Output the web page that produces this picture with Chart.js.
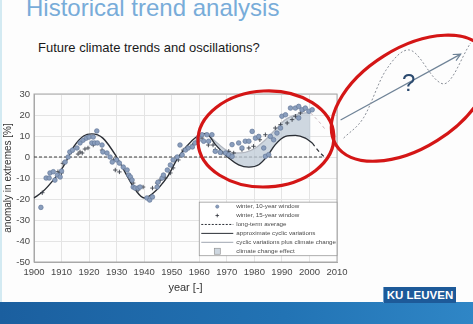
<!DOCTYPE html>
<html>
<head>
<meta charset="utf-8">
<script src="https://cdn.jsdelivr.net/npm/chart.js@4.4.1/dist/chart.umd.min.js"></script>
<style>
  body { margin: 0; width: 473px; height: 324px; overflow: hidden; position: relative;
         background: #fdfdfd; font-family: "Liberation Sans", Arial, sans-serif; }
  #title { position: absolute; left: 26px; top: -4px; font-size: 24px; line-height: 24px;
           color: #78acd9; white-space: nowrap; }
  #subtitle { position: absolute; left: 38px; top: 41px; font-size: 13px; line-height: 13px;
              color: #1a1a1a; white-space: nowrap; }
  #edge { position: absolute; left: 0; top: 0; width: 2px; height: 324px; background: #d3eaf2; }
  #band { position: absolute; left: 0; top: 302px; width: 473px; height: 22px;
          background: linear-gradient(90deg, #1b5f9f, #2273b4 60%, #2f86c6); }
  #logo { position: absolute; left: 383px; top: 287px; width: 72px; height: 16px;
          background: #1d5a99; color: #fff; font-weight: bold; font-size: 11.5px;
          line-height: 16px; text-align: center; border-left: 1px solid #6f9fcc; }
  canvas { position: absolute; left: 0; top: 0; }
</style>
</head>
<body>
<div id="edge"></div>
<div id="title">Historical trend analysis</div>
<div id="subtitle">Future climate trends and oscillations?</div>
<div id="band"></div>
<div id="logo">KU LEUVEN</div>
<canvas id="chart" width="473" height="324"></canvas>

<script>
// winter, 10-year window (circles)
const years10 = [1902.5, 1904.4, 1905.5, 1905.8, 1907, 1907.6, 1908.5, 1909.5, 1910, 1911.3,
  1912.4, 1913, 1914, 1915.6, 1916.7, 1917.8, 1919, 1920, 1921, 1921.5,
  1922, 1922.8, 1923, 1924.7, 1925, 1926.5, 1927.6, 1928.4, 1930, 1931,
  1932.4, 1933.8, 1934.4, 1935, 1935.6, 1936, 1936.7, 1937.8, 1938.5, 1941,
  1942, 1943, 1944.7, 1945, 1946.5, 1947, 1948.4, 1949.5, 1950.5, 1952,
  1953, 1953.8, 1955, 1956, 1957.5, 1958.5, 1959.6, 1959.8, 1961, 1961.6,
  1962.8, 1963.4, 1964.6, 1965.8, 1967.6, 1969.5, 1970.7, 1971.9, 1971.9, 1974.3,
  1975.5, 1976.7, 1978, 1979.2, 1980.4, 1981.6, 1983.4, 1984, 1985.2, 1985.8,
  1987, 1988.2, 1989.5, 1990, 1991.3, 1993.1, 1994.9, 1996.1, 1996.1, 1997.3,
  1998.5, 1999.8, 2001];
const vals10 = [-24, -10, -10, -7.6, -7, -11, -8.6, -9.5, -6.7, -2.4,
  0, 2.4, 3.3, 4.3, 6.7, 8, 9, 9.5, 6.7, 9.5,
  6.7, 12.4, 6.7, 5.7, 2.4, 1.9, 0, -2.4, -1.4, -2.9,
  -4.8, -6.2, -8.6, -9.5, -11, -14.3, -14.8, -14.8, -14.3, -19.5,
  -20.5, -19, -14.3, -12, -10, -8.6, -6.2, -3.8, -1.4, 0,
  5.7, 1, 3.3, 4.3, 4.8, 6.7, 8, 9.5, 10.6, 7.5,
  10.6, 7.5, 10.6, 2.7, 2.2, 1.9, 1.1, 0.3, 5.9, 6.7,
  4.3, 7.5, 7.5, 12.2, 9, 9.8, 4.3, 0.3, 1.1, 9.8,
  8.2, 11.4, 13.8, 19.4, 20.1, 23.3, 23.3, 24.1, 18.6, 22.5,
  23.3, 21.8, 22.5];

// winter, 15-year window (crosses)
const years15 = [1903, 1908.7, 1910, 1910.5, 1913.6, 1916, 1916.7, 1917.5, 1918.5, 1919.6,
  1921.5, 1924.7, 1928.8, 1929.5, 1931, 1936, 1937.8, 1939.6, 1943, 1944.7,
  1945.8, 1947.6, 1949.5, 1950.5, 1952.4, 1954.2, 1957.5, 1959.3, 1961, 1963.3,
  1965, 1965.8, 1968.2, 1970.7, 1972.5, 1975.5, 1978, 1979.7, 1982, 1984,
  1987.6, 1989.5, 1991.9, 1993.7, 1994.9, 1996.7, 1998];
const vals15 = [-17, -7, -7.6, -3, 2.4, 1.4, 2.4, 1.9, 3.8, 4.3,
  5.7, 3.3, -1.4, -6.2, -7.1, -12.4, -15.7, -14.3, -14.8, -12.4,
  -11, -10, -7.6, -5.2, -1.4, 3.3, 5.7, 7.1, 9, 5.7,
  5.7, 3.5, 1.9, 2.7, 1.9, 3.5, 4.3, 5.1, 8.2, 10.6,
  13.8, 15.4, 16.2, 17.8, 19.4, 21, 22.5];

// long-term average
const avgYears = [1900, 2005];
const avgVals = [0, 0];

// approximate cyclic variations
const cycleYears = [1900, 1903, 1907, 1910.5, 1912.5, 1914.5, 1918, 1921, 1925, 1930,
  1934, 1937, 1940, 1943, 1948.4, 1952.4, 1957.5, 1961, 1962.5, 1965.8,
  1970.7, 1974.3, 1978, 1981.6, 1984.6, 1987.6, 1991.3, 1994.9, 1998.5, 2001];
const cycleVals = [-19.5, -16.7, -11, -4.8, 0, 5, 10, 11, 9, 0,
  -9.5, -16, -19.5, -17.5, -9.5, 0, 8, 11, 11.2, 6,
  -0.5, -3.7, -4.8, -3.7, 0.3, 5.9, 9.8, 10.3, 9, 6.7];
const cycleTailYears = [2001, 2003.4, 2005.2];
const cycleTailVals = [6.7, 2.7, 0.3];

// cyclic variations plus climate change
const trendYears = [1962.5, 1965.8, 1969.5, 1973, 1976.7, 1980.4, 1984, 1987.6, 1991.3, 1994.9, 1998.5, 2000.4];
const trendVals = [11.2, 7.5, 3.5, 1.9, 2.2, 4.3, 8.2, 13, 17.8, 20.1, 21, 21];
const trendTailYears = [2000.4, 2002.2, 2004, 2005.8];
const trendTailVals = [21, 18.6, 16, 13];

// future sketch
const waveYears = [2012.4, 2019.6, 2027.6, 2036, 2046.5, 2048.7, 2058.5];
const waveVals = [9, 18.6, 41, 51, 36.2, 34.8, 54.3];
const arrowYears = [2011.3, 2054.9];
const arrowVals = [17.6, 49];

const legendLabels = ['winter, 10-year window', 'winter, 15-year window', 'long-term average',
  'approximate cyclic variations', 'cyclic variations plus climate change', 'climate change effect'];

const pts = (xs, ys) => xs.map((x, i) => ({ x: x, y: ys[i] }));

const dark = '#2b2f36';
const grayLine = '#b2b7c0';
const shade = 'rgba(190,201,214,0.75)';
const dotFill = '#8a9ebd';
const dotEdge = '#647899';
const red = '#d41616';

const overlay = {
  id: 'overlay',
  beforeDatasetsDraw(chart) {
    const { ctx, chartArea: a } = chart;
    ctx.save();
    ctx.strokeStyle = '#a8a8a8';
    ctx.lineWidth = 1;
    ctx.strokeRect(a.left, a.top, a.right - a.left, a.bottom - a.top);
    ctx.restore();
  },
  afterDraw(chart) {
    const { ctx, chartArea: a, scales: { x, y } } = chart;
    ctx.save();

    // legend box
    const lx = x.getPixelForValue(1960), ly = y.getPixelForValue(-21.5);
    const by = y.getPixelForValue(-47);
    ctx.fillStyle = '#fff';
    ctx.fillRect(lx, ly, a.right - lx, by - ly);
    ctx.strokeStyle = '#9a9a9a';
    ctx.lineWidth = 0.8;
    ctx.strokeRect(lx, ly, a.right - lx, by - ly);
    const rowH = (by - ly) / legendLabels.length;
    ctx.font = '6.2px "Liberation Sans", Arial, sans-serif';
    ctx.textBaseline = 'middle';
    legendLabels.forEach((t, i) => {
      const cy = ly + rowH * (i + 0.5);
      const mx = lx + 18;
      ctx.setLineDash([]);
      if (i === 0) {
        ctx.beginPath(); ctx.arc(mx, cy, 1.6, 0, Math.PI * 2);
        ctx.fillStyle = dotFill; ctx.fill(); ctx.strokeStyle = dotEdge; ctx.lineWidth = 0.6; ctx.stroke();
      } else if (i === 1) {
        ctx.strokeStyle = dark; ctx.lineWidth = 0.8; ctx.beginPath();
        ctx.moveTo(mx - 1.8, cy); ctx.lineTo(mx + 1.8, cy); ctx.moveTo(mx, cy - 1.8); ctx.lineTo(mx, cy + 1.8); ctx.stroke();
      } else if (i === 5) {
        ctx.fillStyle = shade; ctx.fillRect(mx - 3, cy - 3, 6, 6);
        ctx.strokeStyle = '#888'; ctx.lineWidth = 0.6; ctx.strokeRect(mx - 3, cy - 3, 6, 6);
      } else {
        ctx.strokeStyle = i === 4 ? grayLine : dark;
        ctx.lineWidth = i === 4 ? 1.2 : 1;
        if (i === 2) ctx.setLineDash([2, 1.5]);
        ctx.beginPath(); ctx.moveTo(lx + 2, cy); ctx.lineTo(lx + 34, cy); ctx.stroke();
        ctx.setLineDash([]);
      }
      ctx.fillStyle = '#4a4a4a';
      ctx.fillText(t, lx + 37, cy);
    });

    // arrow head of the future sketch
    const ax0 = x.getPixelForValue(arrowYears[0]), ay0 = y.getPixelForValue(arrowVals[0]);
    const ax1 = x.getPixelForValue(arrowYears[1]), ay1 = y.getPixelForValue(arrowVals[1]);
    const ang = Math.atan2(ay1 - ay0, ax1 - ax0);
    ctx.strokeStyle = '#6f8397';
    ctx.lineWidth = 1.2;
    ctx.beginPath();
    ctx.moveTo(ax1 - 8 * Math.cos(ang - 0.45), ay1 - 8 * Math.sin(ang - 0.45));
    ctx.lineTo(ax1, ay1);
    ctx.lineTo(ax1 - 8 * Math.cos(ang + 0.45), ay1 - 8 * Math.sin(ang + 0.45));
    ctx.stroke();

    // question mark
    ctx.fillStyle = '#2b4a6f';
    ctx.font = '24px "Liberation Sans", Arial, sans-serif';
    ctx.textAlign = 'center';
    ctx.textBaseline = 'middle';
    ctx.fillText('?', x.getPixelForValue(2036), y.getPixelForValue(34.8));

    // red ellipses
    ctx.strokeStyle = red;
    ctx.lineWidth = 3.2;
    ctx.beginPath();
    ctx.ellipse(x.getPixelForValue(1984.2), y.getPixelForValue(8.6), 68, 48, -0.05, 0, Math.PI * 2);
    ctx.stroke();
    ctx.beginPath();
    ctx.ellipse(x.getPixelForValue(2036.7), y.getPixelForValue(28), 88, 50, -32 * Math.PI / 180, 0, Math.PI * 2);
    ctx.stroke();
    ctx.restore();
  }
};

const tickFont = { family: '"Liberation Sans", Arial, sans-serif', size: 9.5 };

new Chart(document.getElementById('chart'), {
  type: 'line',
  data: {
    datasets: [
      { label: legendLabels[0], data: pts(years10, vals10), showLine: false,
        pointRadius: 2.3, pointBackgroundColor: dotFill, pointBorderColor: dotEdge, pointBorderWidth: 0.7 },
      { label: legendLabels[1], data: pts(years15, vals15), showLine: false, pointStyle: 'cross',
        pointRadius: 2.2, pointBorderColor: '#3a3f4a', pointBorderWidth: 0.9 },
      { label: legendLabels[3], data: pts(cycleYears, cycleVals), borderColor: dark, borderWidth: 1.4,
        pointRadius: 0, cubicInterpolationMode: 'monotone' },
      { data: pts(cycleTailYears, cycleTailVals), borderColor: dark, borderWidth: 1.2, borderDash: [4, 3],
        pointRadius: 0, cubicInterpolationMode: 'monotone' },
      { label: legendLabels[4], data: pts(trendYears, trendVals), borderColor: grayLine, borderWidth: 1.3,
        pointRadius: 0, cubicInterpolationMode: 'monotone',
        fill: { target: 2, above: shade, below: shade } },
      { data: pts(trendTailYears, trendTailVals), borderColor: '#c8b6bd', borderWidth: 1, borderDash: [3, 3],
        pointRadius: 0, cubicInterpolationMode: 'monotone' },
      { label: legendLabels[2], data: pts(avgYears, avgVals), borderColor: '#3c3c3c', borderWidth: 1,
        borderDash: [3, 2], pointRadius: 0 },
      { data: pts(waveYears, waveVals), clip: false, borderColor: '#8a8f98', borderWidth: 1,
        borderDash: [2, 2], pointRadius: 0, cubicInterpolationMode: 'monotone' },
      { data: pts(arrowYears, arrowVals), clip: false, borderColor: '#6f8397', borderWidth: 1.2,
        pointRadius: 0 }
    ]
  },
  options: {
    responsive: false,
    animation: false,
    layout: { padding: { left: 0, right: 136, top: 94, bottom: 24 } },
    plugins: { legend: { display: false }, tooltip: { enabled: false } },
    scales: {
      x: {
        type: 'linear',
        // bounds set here (not via min/max) so the sketch beyond 2010 is not trimmed
        afterDataLimits: s => { s.min = 1900; s.max = 2010; },
        ticks: { stepSize: 10, padding: 5, color: '#474747', font: tickFont, callback: v => String(v) },
        grid: { color: '#e4e4e4', drawTicks: false },
        border: { color: '#a8a8a8' },
        title: { display: true, text: 'year [-]', color: '#333', padding: { top: 0, bottom: 5 },
                 font: { family: '"Liberation Sans", Arial, sans-serif', size: 11 } },
        afterFit: s => { s.height = 38; }
      },
      y: {
        min: -50, max: 30,
        ticks: { stepSize: 10, padding: 4, color: '#474747', font: tickFont },
        grid: { color: '#e4e4e4', drawTicks: false },
        border: { color: '#a8a8a8' },
        title: { display: true, text: 'anomaly in extremes [%]', color: '#333', padding: { top: 2, bottom: 0 },
                 font: { family: '"Liberation Sans", Arial, sans-serif', size: 10 } },
        afterFit: s => { s.width = 34; }
      }
    }
  },
  plugins: [overlay]
});
</script>
</body>
</html>
